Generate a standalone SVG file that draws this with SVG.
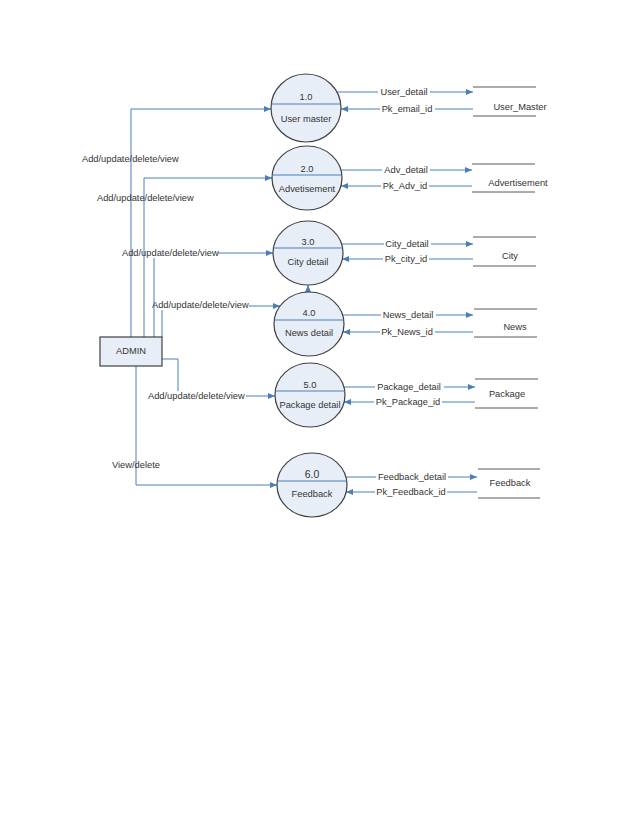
<svg xmlns="http://www.w3.org/2000/svg" width="638" height="826" viewBox="0 0 638 826">
<defs>
<marker id="arr" markerUnits="userSpaceOnUse" markerWidth="8" markerHeight="7" refX="7" refY="3" orient="auto">
<path d="M0,0 L7,3 L0,6 z" fill="#4A7EBB"/>
</marker>
<style>
text{font-family:"Liberation Sans",Arial,sans-serif;font-size:9.3px;fill:#333}
.m{text-anchor:middle}
.proc{fill:#E8EEF8;stroke:#404040;stroke-width:1.2}
.div{stroke:#4A7EBB;stroke-width:1;fill:none}
.con{stroke:#4A7EBB;stroke-width:1;fill:none;marker-end:url(#arr)}
.st{stroke:#5a5a5a;stroke-width:1.2;fill:none}
.ent{fill:#E8EEF8;stroke:#404040;stroke-width:1.2}
</style>
</defs>
<rect width="638" height="826" fill="#fff"/>

<g id="connectors">
<path class="con" d="M131,337 V109 H271"/>
<path class="con" d="M144,337 V178 H272"/>
<path class="con" d="M154,337 V258 M218,253 H273"/>
<path class="con" d="M162,337 V310 M249,306 H280"/>
<path class="con" d="M162,359 H178 V391 M246,396 H275"/>
<path class="con" d="M136,366 V485 H277"/>
<path class="con" d="M308,292 V285"/>

<path class="con" d="M337,92 H378 M430,92 H473"/>
<path class="con" d="M473,109 H435 M380,109 H341"/>
<path class="con" d="M341,170 H382 M430,170 H472"/>
<path class="con" d="M472,186 H429 M381,186 H341"/>
<path class="con" d="M342,244 H384 M431,244 H473"/>
<path class="con" d="M473,259 H429 M383,259 H342"/>
<path class="con" d="M343,315 H381 M436,315 H473"/>
<path class="con" d="M473,332 H435 M380,332 H343"/>
<path class="con" d="M344,387 H375 M444,387 H475"/>
<path class="con" d="M475,402 H442 M374,402 H344"/>
<path class="con" d="M346,477 H376 M448,477 H477"/>
<path class="con" d="M477,492 H447 M375,492 H346"/>

<text x="82" y="162">Add/update/delete/view</text>
<text x="97" y="201">Add/update/delete/view</text>
<text x="122" y="256">Add/update/delete/view</text>
<text x="152" y="308">Add/update/delete/view</text>
<text x="148" y="399">Add/update/delete/view</text>
<text x="112" y="468">View/delete</text>

<text class="m" x="404" y="95">User_detail</text>
<text class="m" x="407" y="112">Pk_email_id</text>
<text class="m" x="406" y="173">Adv_detail</text>
<text class="m" x="405" y="189">Pk_Adv_id</text>
<text class="m" x="407" y="247">City_detail</text>
<text class="m" x="406" y="262">Pk_city_id</text>
<text class="m" x="408" y="318">News_detail</text>
<text class="m" x="407" y="335">Pk_News_id</text>
<text class="m" x="409" y="390">Package_detail</text>
<text class="m" x="408" y="405">Pk_Package_id</text>
<text class="m" x="412" y="480">Feedback_detail</text>
<text class="m" x="411" y="495">Pk_Feedback_id</text>
</g>

<g id="admin">
<rect class="ent" x="100" y="337" width="62" height="29"/>
<text class="m" x="131" y="354">ADMIN</text>
</g>

<g id="p1">
<ellipse class="proc" cx="306" cy="108" rx="35" ry="34"/>
<line class="div" x1="271.2" y1="104" x2="340.8" y2="104"/>
<text class="m" x="306" y="100">1.0</text>
<text class="m" x="306" y="122">User master</text>
</g>
<g id="p2">
<ellipse class="proc" cx="307" cy="178" rx="35" ry="32"/>
<line class="div" x1="272.2" y1="175" x2="341.8" y2="175"/>
<text class="m" x="307" y="172">2.0</text>
<text class="m" x="307" y="192">Advetisement</text>
</g>
<g id="p3">
<ellipse class="proc" cx="308" cy="253" rx="35" ry="32"/>
<line class="div" x1="273.4" y1="248" x2="342.6" y2="248"/>
<text class="m" x="308" y="245">3.0</text>
<text class="m" x="308" y="265">City detail</text>
</g>
<g id="p4">
<ellipse class="proc" cx="309" cy="324" rx="35" ry="32"/>
<line class="div" x1="274.3" y1="320" x2="343.7" y2="320"/>
<text class="m" x="309" y="316">4.0</text>
<text class="m" x="309" y="336">News detail</text>
</g>
<g id="p5">
<ellipse class="proc" cx="310" cy="395" rx="35" ry="32"/>
<line class="div" x1="275.3" y1="391" x2="344.7" y2="391"/>
<text class="m" x="310" y="388">5.0</text>
<text class="m" x="310" y="408">Package detail</text>
</g>
<g id="p6">
<ellipse class="proc" cx="312" cy="485" rx="35" ry="32"/>
<line class="div" x1="277.3" y1="481" x2="346.7" y2="481"/>
<text class="m" x="312" y="478" style="font-size:10.5px">6.0</text>
<text class="m" x="312" y="497">Feedback</text>
</g>

<g id="s1">
<path class="st" d="M473,87 H536 M473,116 H536"/>
<text class="m" x="520" y="110">User_Master</text>
</g>
<g id="s2">
<path class="st" d="M472,164 H535 M472,192 H535"/>
<text class="m" x="518" y="186">Advertisement</text>
</g>
<g id="s3">
<path class="st" d="M473,237 H536 M473,266 H536"/>
<text class="m" x="510" y="259">City</text>
</g>
<g id="s4">
<path class="st" d="M474,309 H537 M474,337 H537"/>
<text class="m" x="515" y="330">News</text>
</g>
<g id="s5">
<path class="st" d="M475,379 H538 M475,408 H538"/>
<text class="m" x="507" y="397">Package</text>
</g>
<g id="s6">
<path class="st" d="M478,469 H540 M478,498 H540"/>
<text class="m" x="510" y="486">Feedback</text>
</g>
</svg>
